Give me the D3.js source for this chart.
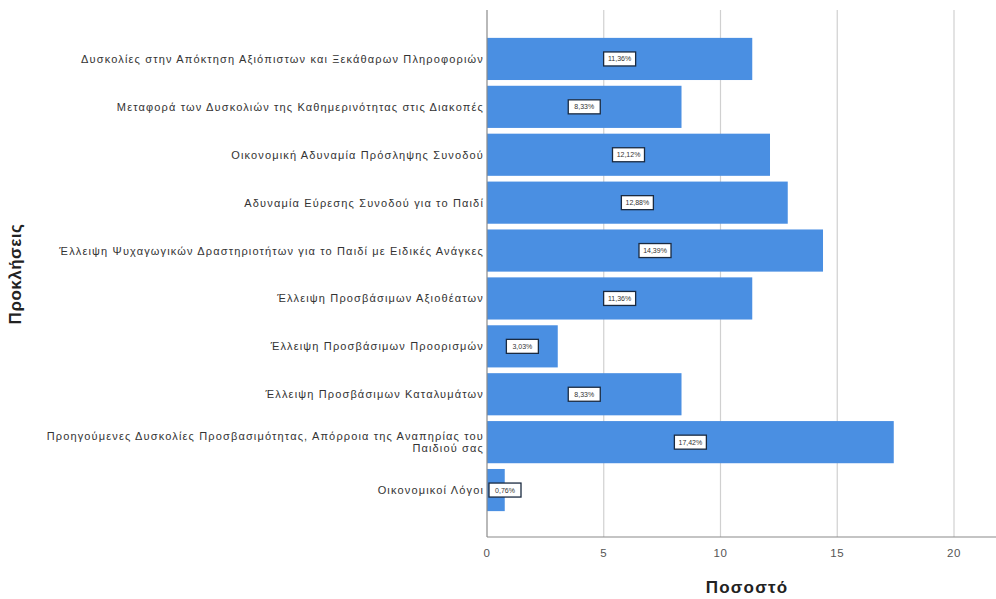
<!DOCTYPE html>
<html><head><meta charset="utf-8">
<script src="https://cdn.jsdelivr.net/npm/d3@7"></script>
<style>body{margin:0;background:#fff}svg{display:block}</style>
</head><body>
<svg id="c" width="996" height="599"></svg>
<script>
const categories = [
  "Δυσκολίες στην Απόκτηση Αξιόπιστων και Ξεκάθαρων Πληροφοριών",
  "Μεταφορά των Δυσκολιών της Καθημερινότητας στις Διακοπές",
  "Οικονομική Αδυναμία Πρόσληψης Συνοδού",
  "Αδυναμία Εύρεσης Συνοδού για το Παιδί",
  "Έλλειψη Ψυχαγωγικών Δραστηριοτήτων για το Παιδί με Ειδικές Ανάγκες",
  "Έλλειψη Προσβάσιμων Αξιοθέατων",
  "Έλλειψη Προσβάσιμων Προορισμών",
  "Έλλειψη Προσβάσιμων Καταλυμάτων",
  "Προηγούμενες Δυσκολίες Προσβασιμότητας, Απόρροια της Αναπηρίας του|Παιδιού σας",
  "Οικονομικοί Λόγοι"
];
const values = [11.36, 8.33, 12.12, 12.88, 14.39, 11.36, 3.03, 8.33, 17.42, 0.76];
const xTicks = [0, 5, 10, 15, 20];
const xTitle = "Ποσοστό";
const yTitle = "Προκλήσεις";

(function () {
const svg = d3.select("#c");
const pL = 487, pR = 996, pT = 10, pB = 537;
const x = d3.scaleLinear().domain([0, 20]).range([pL, pL + 467]);
const y = d3.scaleBand().domain(categories).range([35, 514]).paddingInner(0.12).paddingOuter(0.06);

// gridlines
svg.append("g").selectAll("line").data(xTicks.filter(d => d > 0)).join("line")
  .attr("x1", d => x(d)).attr("x2", d => x(d)).attr("y1", pT).attr("y2", pB)
  .attr("stroke", "#d0d0d0").attr("stroke-width", 1.2);

// bars
svg.append("g").selectAll("rect").data(values).join("rect")
  .attr("x", x(0)).attr("y", (d, i) => y(categories[i]))
  .attr("width", d => x(d) - x(0)).attr("height", y.bandwidth())
  .attr("fill", "#4a8fe2");

// axes lines
svg.append("line").attr("x1", pL).attr("x2", pL).attr("y1", pT).attr("y2", pB)
  .attr("stroke", "#8a8a8a").attr("stroke-width", 1.2);
svg.append("line").attr("x1", pL).attr("x2", pR).attr("y1", pB).attr("y2", pB)
  .attr("stroke", "#8a8a8a").attr("stroke-width", 1.2);

// x tick labels
svg.append("g").selectAll("text").data(xTicks).join("text")
  .attr("x", d => x(d)).attr("y", 557).attr("text-anchor", "middle")
  .attr("font-family", "Liberation Sans, Arial, sans-serif").attr("font-size", 11.5).attr("fill", "#555")
  .attr("letter-spacing", 0.5)
  .text(d => d);

// category labels
const cl = svg.append("g").attr("font-family", "Liberation Sans, Arial, sans-serif")
  .attr("font-size", 11).attr("letter-spacing", 1.15).attr("fill", "#333");
categories.forEach((c, i) => {
  const lines = c.split("|");
  const cy = y(c) + y.bandwidth() / 2;
  const lh = 12;
  lines.forEach((ln, j) => {
    cl.append("text").attr("x", 484).attr("y", cy + (j - (lines.length - 1) / 2) * lh + 4)
      .attr("text-anchor", "end").text(ln);
  });
});

// value labels
const fmt = v => v.toFixed(2).replace(".", ",") + "%";
const vl = svg.append("g");
values.forEach((v, i) => {
  const w = 32, h = 14;
  const cx = Math.max((x(0) + x(v)) / 2, x(0) + w / 2 + 2);
  const cy = y(categories[i]) + y.bandwidth() / 2;
  vl.append("rect").attr("x", cx - w / 2).attr("y", cy - h / 2).attr("width", w).attr("height", h)
    .attr("fill", "#fff").attr("stroke", "#1a2a40").attr("stroke-width", 1.3);
  vl.append("text").attr("x", cx).attr("y", cy + 2.5).attr("text-anchor", "middle")
    .attr("font-family", "Liberation Sans, Arial, sans-serif").attr("font-size", 7).attr("fill", "#333")
    .text(fmt(v));
});

// titles
svg.append("text").attr("x", 747).attr("y", 593).attr("text-anchor", "middle")
  .attr("font-family", "Liberation Sans, Arial, sans-serif").attr("font-size", 17).attr("font-weight", "bold")
  .attr("letter-spacing", 1.2).attr("fill", "#222").text(xTitle);
svg.append("text").attr("transform", "translate(21,274) rotate(-90)").attr("text-anchor", "middle")
  .attr("font-family", "Liberation Sans, Arial, sans-serif").attr("font-size", 17).attr("font-weight", "bold")
  .attr("letter-spacing", 0.5).attr("fill", "#222").text(yTitle);
})();
</script>
</body></html>
